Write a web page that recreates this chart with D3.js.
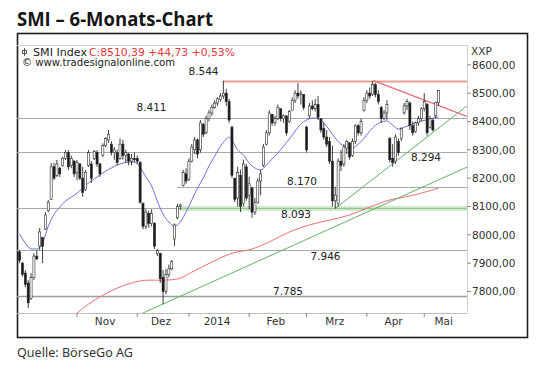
<!DOCTYPE html>
<html><head><meta charset="utf-8">
<script src="https://cdn.jsdelivr.net/npm/d3@7"></script>
<style>html,body{margin:0;padding:0;background:#fff;} svg{display:block;}</style>
</head><body><svg id="c" width="540" height="366"></svg>
<script>
// ---------- DATA ----------
const open = [
7940,7900,7865,7830,7775,7850,7925,7960,7990,8020,
8085,8125,8240,8210,8235,8245,8270,8290,8245,8260,
8220,8250,8200,8160,8245,8250,8270,8290,8250,8280,
8315,8335,8320,8290,8290,8270,8320,8280,8285,8260,
8270,8270,8255,8110,8030,8075,8040,8040,7935,7935,
7850,7800,7860,7880,7985,8060,8100,8175,8215,8195,
8260,8300,8335,8300,8390,8360,8410,8430,8450,8465,
8478,8490,8500,8470,8380,8200,8130,8210,8110,8240,
8140,8165,8080,8115,8190,8245,8320,8360,8425,8395,
8410,8445,8410,8420,8400,8440,8475,8500,8495,8495,
8380,8420,8455,8445,8460,8410,8375,8345,8330,8260,
8120,8110,8260,8250,8305,8325,8280,8330,8385,8360,
8440,8475,8500,8495,8530,8495,8450,8410,8430,8340,
8270,8260,8330,8340,8430,8455,8465,8385,8365,8395,
8410,8445,8460,8380,8405,8420,8466];
const high = [
7946,7905,7876,7840,7865,7935,7946,8024,7992,8080,
8123,8254,8254,8264,8240,8275,8299,8299,8280,8264,
8264,8254,8240,8229,8299,8260,8299,8299,8254,8323,
8345,8370,8330,8310,8300,8340,8335,8300,8290,8285,
8290,8280,8260,8115,8090,8085,8090,8045,7950,7935,
7876,7880,7895,7911,8040,8110,8110,8230,8235,8270,
8320,8345,8340,8405,8395,8420,8440,8460,8475,8485,
8500,8544,8515,8480,8385,8200,8240,8230,8265,8250,
8205,8170,8130,8200,8230,8320,8370,8440,8425,8420,
8460,8445,8425,8420,8440,8485,8510,8535,8510,8495,
8385,8465,8475,8480,8490,8410,8395,8370,8345,8315,
8170,8270,8300,8320,8335,8325,8340,8390,8390,8410,
8485,8510,8520,8542,8535,8510,8455,8440,8475,8345,
8320,8355,8340,8380,8465,8480,8470,8400,8400,8420,
8450,8500,8465,8420,8410,8470,8512];
const low = [
7900,7852,7816,7742,7770,7840,7911,7946,7900,8017,
8080,8123,8193,8204,8204,8240,8264,8229,8235,8204,
8193,8193,8134,8155,8240,8183,8264,8240,8204,8275,
8310,8325,8280,8265,8245,8265,8265,8255,8245,8245,
8255,8250,8110,8020,8020,8025,8030,7950,7925,7830,
7755,7790,7850,7875,7960,8055,8088,8170,8180,8190,
8255,8285,8270,8290,8345,8355,8400,8420,8445,8455,
8470,8480,8455,8395,8200,8115,8100,8080,8100,8120,
8090,8060,8070,8110,8140,8240,8315,8350,8385,8385,
8405,8400,8395,8350,8395,8440,8465,8480,8460,8440,
8290,8410,8440,8435,8405,8360,8335,8310,8250,8100,
8093,8100,8225,8240,8285,8265,8275,8320,8350,8350,
8435,8465,8480,8490,8485,8460,8395,8405,8405,8255,
8240,8250,8280,8330,8425,8440,8370,8350,8360,8385,
8400,8435,8350,8375,8365,8410,8455];
const close = [
7910,7860,7825,7760,7850,7925,7915,8010,7960,8070,
8115,8240,8200,8250,8215,8270,8290,8240,8270,8215,
8255,8200,8150,8220,8290,8200,8295,8250,8215,8315,
8340,8355,8290,8300,8255,8320,8280,8290,8260,8270,
8265,8260,8115,8030,8080,8040,8075,7960,7945,7845,
7800,7860,7880,7905,8035,8100,8105,8220,8190,8260,
8310,8335,8285,8395,8355,8410,8430,8450,8465,8480,
8490,8500,8470,8405,8210,8125,8220,8100,8250,8130,
8180,8080,8115,8190,8215,8310,8360,8430,8395,8410,
8450,8410,8420,8360,8435,8475,8500,8490,8500,8450,
8300,8455,8445,8460,8415,8370,8345,8320,8260,8120,
8140,8260,8245,8310,8330,8275,8330,8385,8360,8400,
8475,8500,8490,8530,8495,8470,8410,8430,8460,8265,
8255,8345,8290,8375,8455,8470,8385,8360,8395,8410,
8445,8470,8360,8410,8370,8466,8510];

// short moving average (blue), sampled at bar indices
const blueIdx = [0,2,4,6,8,10,12,14,16,18,20,22,24,26,28,30,32,34,36,38,40,42,44,46,48,50,52,54,56,58,60,62,64,66,68,70,72,73,74,76,78,80,82,84,86,88,90,92,94,96,98,100,102,104,106,108,110,112,114,116,118,120,122,124,126,128,130,132,134,136,138,140,142,144,146];
const blueVal = [8003,7971,7950,7950,7971,8030,8072,8098,8119,8133,8147,8165,8183,8197,8211,8225,8236,8246,8253,8257,8257,8239,8204,8172,8119,8073,8045,8031,8045,8080,8123,8165,8200,8243,8278,8313,8338,8345,8334,8299,8282,8253,8236,8229,8246,8268,8289,8313,8338,8366,8391,8405,8412,8412,8395,8370,8341,8320,8310,8306,8320,8341,8366,8387,8398,8402,8387,8373,8380,8387,8395,8402,8405,8412,8416];
// long moving average (red)
const redIdx = [18,20,24,28,34,39,45,50,55,60,67,74,81,87,94,101,108,115,122,129,134,140,146];
const redVal = [7705,7724,7755,7781,7812,7830,7840,7840,7844,7868,7904,7935,7950,7975,8010,8035,8052,8070,8098,8123,8133,8147,8165];

// trend lines: [barIndex, value] anchors
const greenLong  = [[50, 7756], [155.9, 8239]];
const greenShort = [[110, 8093], [155.9, 8455]];
const redDown    = [[123.3, 8544], [155.9, 8418]];

// horizontal levels
const levels     = [8544, 8411, 8294, 8170, 8093, 7946, 7785];
const levelText  = ["8.544","8.411","8.294","8.170","8.093","7.946","7.785"];
const levelFrom  = [71, null, null, 55, null, null, null]; // bar index where a level starts (null = full width)

const monthTicks  = [20, 41, 59, 80, 100, 121, 141];
const monthLabels = ["Nov","Dez","2014","Feb","Mrz","Apr","Mai"];
const yTicks = [7800,7900,8000,8100,8200,8300,8400,8500,8600];

// ---------- LAYOUT ----------
const L = 17, R = 467, T = 45, B = 313;
const svg = d3.select("#c");
const x = d3.scaleLinear().domain([-0.9, 155.9]).range([L, R]);
const y = d3.scaleLinear().domain([7800, 8600]).range([291.5, 64.8]);
const small = "'DejaVu Sans', Verdana, sans-serif";

svg.append("rect").attr("width",540).attr("height",366).attr("fill","#fff");

// title
svg.append("text").attr("x",17).attr("y",26)
  .attr("font-family","'Open Sans', sans-serif").attr("font-weight",700)
  .attr("font-size",19).attr("fill","#151515")
  .attr("textLength",196).attr("lengthAdjust","spacingAndGlyphs")
  .text("SMI \u2013 6-Monats-Chart");

// outer frame
svg.append("rect").attr("x",17.5).attr("y",33.5).attr("width",510).attr("height",304)
  .attr("fill","#fff").attr("stroke","#1e1e1e").attr("stroke-width",1.6);

// plot border (light gray)
const g = svg.append("g");
g.append("line").attr("x1",L).attr("x2",R).attr("y1",T+0.5).attr("y2",T+0.5).attr("stroke","#cfcfcf");
g.append("line").attr("x1",R+0.5).attr("x2",R+0.5).attr("y1",T).attr("y2",B).attr("stroke","#cfcfcf");
g.append("line").attr("x1",L).attr("x2",R).attr("y1",B+0.5).attr("y2",B+0.5).attr("stroke","#bdbdbd");

svg.append("clipPath").attr("id","clip").append("rect")
  .attr("x",L).attr("y",T).attr("width",R-L).attr("height",B-T);
const p = svg.append("g").attr("clip-path","url(#clip)");

// levels
levels.forEach((v,i)=>{
  const yy = Math.round(y(v)) + 0.5;
  const x0 = levelFrom[i] == null ? L : x(levelFrom[i]);
  if (v === 8544) {
    p.append("line").attr("x1",x0).attr("x2",R).attr("y1",yy).attr("y2",yy)
      .attr("stroke","#f5cfc6").attr("stroke-width",3);
    p.append("line").attr("x1",x0).attr("x2",R).attr("y1",yy).attr("y2",yy)
      .attr("stroke","#e9a292").attr("stroke-width",1);
  } else if (v === 8093) {
    p.append("line").attr("x1",L).attr("x2",R).attr("y1",yy).attr("y2",yy)
      .attr("stroke","#a9a9a9").attr("stroke-width",1);
    p.append("line").attr("x1",x(56)).attr("x2",R).attr("y1",yy).attr("y2",yy)
      .attr("stroke","#c9e5c4").attr("stroke-width",4.5);
    p.append("line").attr("x1",x(56)).attr("x2",R).attr("y1",yy).attr("y2",yy)
      .attr("stroke","#94c890").attr("stroke-width",1);
  } else {
    p.append("line").attr("x1",x0).attr("x2",R).attr("y1",yy).attr("y2",yy)
      .attr("stroke", v===7785 ? "#9c9c9c" : "#a9a9a9")
      .attr("stroke-width", v===7785 ? 1.5 : 1);
  }
});

// MAs & trend lines
const ln = d3.line().x(d=>x(d[0])).y(d=>y(d[1]));
const redPts = redIdx.map((d,i)=>[d, redVal[i]]);
const bluePts = blueIdx.map((d,i)=>[d, blueVal[i]]);
p.append("path").attr("d", d3.line().x(d=>x(d[0])).y(d=>y(d[1])).curve(d3.curveMonotoneX)(redPts))
  .attr("fill","none").attr("stroke","#ee6f78").attr("stroke-width",1);
function extend(a, x0){ // line through two anchors, from x0 index to right domain end
  const s = (a[1][1]-a[0][1])/(a[1][0]-a[0][0]);
  const xe = x.domain()[1];
  return [[x0, a[0][1] + s*(x0-a[0][0])], [xe, a[0][1] + s*(xe-a[0][0])]];
}
p.append("path").attr("d", ln(extend(greenLong, 0))).attr("fill","none").attr("stroke","#66b066").attr("stroke-width",1);
p.append("path").attr("d", ln(extend(greenShort, greenShort[0][0]))).attr("fill","none").attr("stroke","#66b066").attr("stroke-width",1);
p.append("path").attr("d", ln(extend(redDown, redDown[0][0]))).attr("fill","none").attr("stroke","#e86a78").attr("stroke-width",1.2);
p.append("path").attr("d", d3.line().x(d=>x(d[0])).y(d=>y(d[1])).curve(d3.curveMonotoneX)(bluePts))
  .attr("fill","none").attr("stroke","#6f6fe2").attr("stroke-width",1);

// candles
const bars = d3.range(open.length).map(i=>({i,o:open[i],h:high[i],l:low[i],c:close[i]}));
const cg = p.append("g");
cg.selectAll("line.w").data(bars).join("line").attr("class","w")
  .attr("x1",d=>x(d.i)).attr("x2",d=>x(d.i))
  .attr("y1",d=>y(d.h)).attr("y2",d=>y(d.l))
  .attr("stroke","#2a2a2a").attr("stroke-width",0.9);
cg.selectAll("rect").data(bars).join("rect")
  .attr("x",d=>x(d.i)-1.05).attr("width",2.1)
  .attr("y",d=>y(Math.max(d.o,d.c)))
  .attr("height",d=>Math.max(1, Math.abs(y(d.o)-y(d.c))))
  .attr("fill",d=>d.c>=d.o ? "#fff" : "#1a1a1a")
  .attr("stroke","#2a2a2a").attr("stroke-width",0.6);

// level labels (layout offsets)
const labPos = {8544:[203.5,-5.5],8411:[151.5,-7],8294:[426,9.5],8170:[302,-1.5],8093:[296,9.5],7946:[325.5,9.5],7785:[288,-0.5]};
levels.forEach((v,i)=>{
  svg.append("text").attr("x",labPos[v][0]).attr("y",y(v)+labPos[v][1])
    .attr("text-anchor","middle").attr("font-family",small).attr("font-size",10.5)
    .attr("fill","#222").text(levelText[i]);
});

// right axis
yTicks.forEach(v=>{
  svg.append("line").attr("x1",R).attr("x2",R+4).attr("y1",y(v)).attr("y2",y(v)).attr("stroke","#888");
  svg.append("text").attr("x",R+5).attr("y",y(v)+3.8).attr("font-family",small)
    .attr("font-size",10.5).attr("fill","#333").text(d3.format(".2f")(v).replace(".",","));
});
svg.append("text").attr("x",471).attr("y",55).attr("font-family",small).attr("font-size",10.5)
  .attr("fill","#333").text("XXP");

// bottom axis
monthTicks.forEach((t,i)=>{
  svg.append("line").attr("x1",x(t)).attr("x2",x(t)).attr("y1",B).attr("y2",B+4).attr("stroke","#888");
  const nx = i < monthTicks.length-1 ? x(monthTicks[i+1]) : R;
  svg.append("text").attr("x",(x(t)+nx)/2-2).attr("y",324.5).attr("text-anchor","middle")
    .attr("font-family",small).attr("font-size",10.5).attr("fill","#333").text(monthLabels[i]);
});

// legend
svg.append("path").attr("d","M24.5,48 V56 M22.5,50.5 h4 v3 h-4 z").attr("fill","none").attr("stroke","#444").attr("stroke-width",0.9);
svg.append("text").attr("x",33).attr("y",55.5).attr("font-family",small).attr("font-size",10)
  .attr("fill","#222").attr("textLength",54).attr("lengthAdjust","spacingAndGlyphs").text("SMI Index");
svg.append("text").attr("x",89).attr("y",55.5).attr("font-family",small).attr("font-size",10)
  .attr("fill","#e23a3a").attr("textLength",146).attr("lengthAdjust","spacingAndGlyphs").text("C:8510,39 +44,73 +0,53%");
svg.append("text").attr("x",22).attr("y",66).attr("font-family",small).attr("font-size",10)
  .attr("fill","#222").attr("textLength",153).attr("lengthAdjust","spacingAndGlyphs").text("\u00a9 www.tradesignalonline.com");

// source
svg.append("text").attr("x",17).attr("y",356.5).attr("font-family","'Noto Sans', sans-serif")
  .attr("font-size",12.5).attr("fill","#333").attr("textLength",116).attr("lengthAdjust","spacingAndGlyphs")
  .text("Quelle: BörseGo AG");
</script></body></html>
